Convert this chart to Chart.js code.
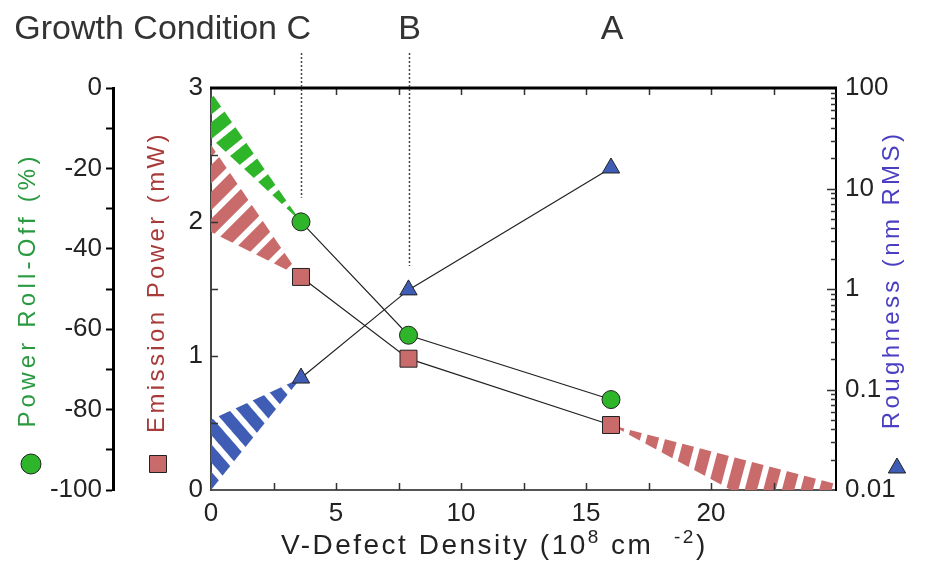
<!DOCTYPE html>
<html>
<head>
<meta charset="utf-8">
<title>Growth condition vs V-defect density</title>
<script src="https://cdn.jsdelivr.net/npm/chart.js@4.4.1/dist/chart.umd.min.js"></script>
<style>
  html, body { margin: 0; padding: 0; background: #fff; }
  #wrap { width: 928px; height: 564px; }
</style>
</head>
<body>
<div id="wrap"><canvas id="chart" width="928" height="564"></canvas></div>
<script>
/* Growth condition C / B / A — roll-off, emission power, roughness vs V-defect density */

// measured points (x in 10^8 cm^-2)
const conditions = ["C", "B", "A"];
const defectDensity = [3.6, 7.9, 16];
const rollOff = [-33.3, -61.5, -77.5];      // %
const emissionPower = [1.59, 0.98, 0.485];  // mW
const roughness = [0.13, 0.98, 16];         // nm RMS

// hatched extrapolation bands: upper / lower edge of each wedge
const rollOffBandX = [0, 3.6];
const rollOffBandHi = [-1, -33.3];
const rollOffBandLo = [-12.5, -33.3];
const powerBandX = [0, 3.6];
const powerBandHi = [2.575, 1.59];
const powerBandLo = [1.925, 1.59];
const roughBandX = [0, 3.6];
const roughBandHi = [0.05, 0.13];
const roughBandLo = [0.01, 0.13];
const powerTailHiX = [16, 25];
const powerTailHi = [0.485, 0.045];
const powerTailLoX = [16, 20.8, 25];
const powerTailLo = [0.485, 0, 0];

// labelled ticks
const xTicks = [0, 5, 10, 15, 20];
const rollOffTicks = [0, -20, -40, -60, -80, -100];
const powerTicks = [0, 1, 2, 3];
const roughTicks = [0.01, 0.1, 1, 10, 100];

const GREEN = "#2fb52a";
const RED = "#c96b6b";
const BLUE = "#3f5db5";
const FONT = "'Liberation Sans', Arial, sans-serif";

Chart.defaults.font.family = FONT;
Chart.defaults.color = "#222";

function stripes(color, angle, period, duty) {
    const c = document.createElement("canvas");
    c.width = period;
    c.height = period;
    const g = c.getContext("2d");
    g.fillStyle = color;
    g.fillRect(0, 0, Math.round(period * duty), period);
    const p = g.createPattern(c, "repeat");
    p.setTransform(new DOMMatrix().rotateSelf(angle));
    return p;
}

const pts = (xs, ys) => xs.map((x, i) => ({ x: x, y: ys[i] }));

const edge = (xs, ys, axis) => ({
    data: pts(xs, ys),
    yAxisID: axis,
    borderColor: "rgba(0,0,0,0)",
    borderWidth: 1,
    pointRadius: 0,
    fill: false
});
const band = (xs, ys, axis, pattern) => ({ ...edge(xs, ys, axis), fill: "-1", backgroundColor: pattern });

const series = (ys, axis, style, radius, color) => ({
    data: pts(defectDensity, ys),
    yAxisID: axis,
    borderColor: "#222",
    borderWidth: 1.2,
    pointStyle: style,
    pointRadius: radius,
    pointBackgroundColor: color,
    pointBorderColor: "#222",
    pointBorderWidth: 1,
    fill: false
});

const matches = (list, v) => list.some(t => Math.abs(t - v) < 1e-9);

const tickFont = { size: 26 };

// inward ticks, top frame, dotted guides, condition labels, axis titles, legend keys
const decorations = {
    id: "decorations",
    afterDraw(chart) {
        const ctx = chart.ctx;
        const a = chart.chartArea;
        const { x, rollOff: ro, power, rough } = chart.scales;

        ctx.save();
        ctx.strokeStyle = "#333";
        ctx.lineWidth = 1.5;
        ctx.beginPath();
        x.ticks.forEach(t => {
            if (t.value <= 0 || t.value >= 25) return;
            const px = Math.round(x.getPixelForValue(t.value)) + 0.5;
            ctx.moveTo(px, a.bottom); ctx.lineTo(px, a.bottom - 7);
            ctx.moveTo(px, a.top); ctx.lineTo(px, a.top + 7);
        });
        power.ticks.forEach(t => {
            if (t.value <= 0 || t.value >= 3) return;
            const py = Math.round(power.getPixelForValue(t.value)) + 0.5;
            ctx.moveTo(a.left, py); ctx.lineTo(a.left + 7, py);
        });
        for (let e = -2; e < 2; e++) {
            for (let m = 1; m <= 9; m++) {
                if (e === -2 && m === 1) continue;
                const py = Math.round(rough.getPixelForValue(m * Math.pow(10, e))) + 0.5;
                ctx.moveTo(a.right, py); ctx.lineTo(a.right - (m === 1 ? 9 : 5), py);
            }
        }
        ctx.stroke();

        // top frame line
        ctx.strokeStyle = "#000";
        ctx.lineWidth = 3;
        ctx.beginPath();
        ctx.moveTo(a.left - 1, a.top);
        ctx.lineTo(a.right + 1, a.top);
        ctx.stroke();

        // dotted guides from the labels down to conditions C and B
        ctx.strokeStyle = "#444";
        ctx.lineWidth = 1.5;
        ctx.setLineDash([2, 2]);
        ctx.beginPath();
        [0, 1].forEach(i => {
            const px = Math.round(x.getPixelForValue(defectDensity[i])) + 0.5;
            const topMark = Math.min(
                ro.getPixelForValue(rollOff[i]),
                power.getPixelForValue(emissionPower[i]),
                rough.getPixelForValue(roughness[i])
            );
            ctx.moveTo(px, 53);
            ctx.lineTo(px, topMark - 24);
        });
        ctx.stroke();
        ctx.setLineDash([]);

        // condition labels
        ctx.fillStyle = "#333";
        ctx.font = "34px " + FONT;
        ctx.textBaseline = "alphabetic";
        conditions.forEach((c, i) => {
            const px = x.getPixelForValue(defectDensity[i]);
            if (i === 0) {
                ctx.textAlign = "right";
                ctx.fillText("Growth Condition " + c, px + 10, 39);
            } else {
                ctx.textAlign = "center";
                ctx.fillText(c, px + 1, 39);
            }
        });

        // x title with superscripts
        ctx.font = "28px " + FONT;
        ctx.letterSpacing = "2.5px";
        ctx.textAlign = "left";
        ctx.fillStyle = "#222";
        let tx = 281;
        const pieces = [["V-Defect Density (10", 28, 0], ["8", 19, -11], [" cm  ", 28, 0], ["-2", 19, -11], [")", 28, 0]];
        pieces.forEach(([s, size, dy]) => {
            ctx.font = size + "px " + FONT;
            ctx.fillText(s, tx, 554 + dy);
            tx += ctx.measureText(s).width;
        });

        // rotated axis titles
        const vtitle = (text, cx, cy, color, spacing) => {
            ctx.save();
            ctx.translate(cx, cy);
            ctx.rotate(-Math.PI / 2);
            ctx.font = "24px " + FONT;
            ctx.letterSpacing = spacing;
            ctx.fillStyle = color;
            ctx.textAlign = "center";
            ctx.textBaseline = "middle";
            ctx.fillText(text, 0, 0);
            ctx.restore();
        };
        vtitle("Power Roll-Off (%)", 28, 290, "#2a9a40", "4.2px");
        vtitle("Emission Power (mW)", 157, 282, "#a83a3a", "3.4px");
        vtitle("Roughness (nm RMS)", 892, 280, "#4a3fc2", "3.4px");
        ctx.letterSpacing = "0px";

        // legend keys under the titles
        const key = (style, radius, color, px, py) => {
            ctx.fillStyle = color;
            ctx.strokeStyle = "#222";
            ctx.lineWidth = 1;
            Chart.helpers.drawPoint(ctx, { pointStyle: style, radius: radius, borderWidth: 1 }, px, py);
        };
        key("circle", 10, GREEN, 31, 464);
        key("rect", 12, RED, 158, 464);
        key("triangle", 10, BLUE, 897, 468);
        ctx.restore();
    }
};

new Chart(document.getElementById("chart"), {
    type: "line",
    data: {
        datasets: [
            series(rollOff, "rollOff", "circle", 9, GREEN),
            series(emissionPower, "power", "rect", 12, RED),
            series(roughness, "rough", "triangle", 10, BLUE),
            edge(rollOffBandX, rollOffBandHi, "rollOff"),
            band(rollOffBandX, rollOffBandLo, "rollOff", stripes(GREEN, 51, 19, 0.68)),
            edge(powerBandX, powerBandHi, "power"),
            band(powerBandX, powerBandLo, "power", stripes(RED, 45, 19, 0.68)),
            edge(roughBandX, roughBandHi, "rough"),
            band(roughBandX, roughBandLo, "rough", stripes(BLUE, -41, 18, 0.68)),
            edge(powerTailHiX, powerTailHi, "power"),
            band(powerTailLoX, powerTailLo, "power", stripes(RED, 15, 18, 0.68))
        ]
    },
    options: {
        responsive: false,
        animation: false,
        devicePixelRatio: 1,
        layout: { padding: { top: 88, left: 0, right: 0, bottom: 0 } },
        plugins: { legend: { display: false }, tooltip: { enabled: false } },
        scales: {
            x: {
                type: "linear",
                position: "bottom",
                min: 0,
                max: 25,
                ticks: {
                    stepSize: 2.5,
                    autoSkip: false,
                    maxRotation: 0,
                    padding: 8,
                    font: tickFont,
                    color: "#222",
                    callback: v => matches(xTicks, v) ? String(v) : ""
                },
                grid: { drawOnChartArea: false, drawTicks: false },
                border: { display: true, color: "#555", width: 2 },
                afterFit: s => { s.height = 74; }
            },
            rollOff: {
                type: "linear",
                position: "left",
                weight: 1,
                min: -100,
                max: 0,
                ticks: {
                    stepSize: 10,
                    autoSkip: false,
                    padding: 4,
                    font: tickFont,
                    color: "#222",
                    callback: v => matches(rollOffTicks, v) ? String(v) : ""
                },
                grid: { drawOnChartArea: false, drawTicks: true, tickLength: 7, tickColor: "#000", tickWidth: 2 },
                border: { display: true, color: "#000", width: 3 },
                afterFit: s => { s.width = 113; }
            },
            power: {
                type: "linear",
                position: "left",
                weight: 0,
                min: 0,
                max: 3,
                ticks: {
                    stepSize: 0.5,
                    autoSkip: false,
                    padding: 8,
                    font: tickFont,
                    color: "#222",
                    callback: v => matches(powerTicks, v) ? String(v) : ""
                },
                grid: { drawOnChartArea: false, drawTicks: false },
                border: { display: true, color: "#444", width: 2 },
                afterFit: s => { s.width = 98; }
            },
            rough: {
                type: "logarithmic",
                position: "right",
                min: 0.01,
                max: 100,
                ticks: {
                    autoSkip: false,
                    padding: 9,
                    font: tickFont,
                    color: "#222",
                    callback: v => {
                        const t = roughTicks.find(r => Math.abs(Math.log10(r) - Math.log10(v)) < 1e-6);
                        return t !== undefined ? String(t) : "";
                    }
                },
                grid: { drawOnChartArea: false, drawTicks: false },
                border: { display: true, color: "#000", width: 2 },
                afterFit: s => { s.width = 92; }
            }
        }
    },
    plugins: [decorations]
});
</script>
</body>
</html>
